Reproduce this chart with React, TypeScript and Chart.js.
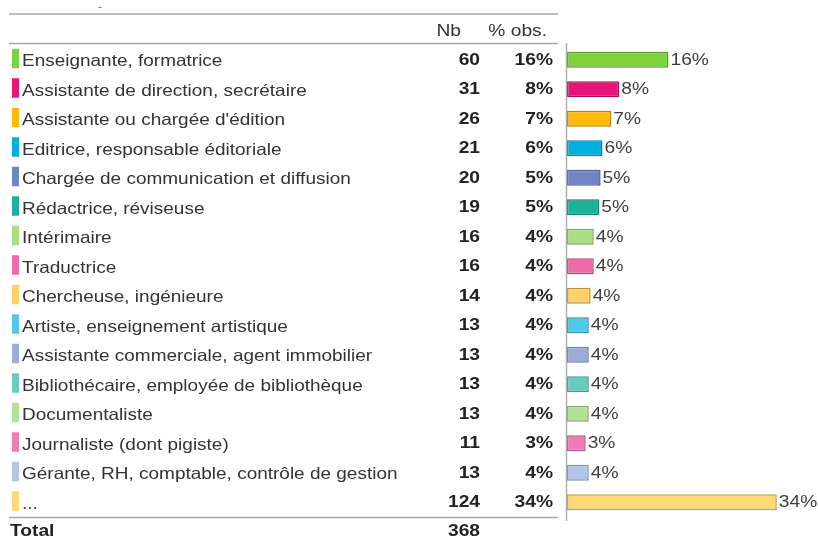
import React, { useEffect, useRef } from "react";
import { Chart, registerables } from "chart.js";
Chart.register(...registerables);

const categories = [
  "Enseignante, formatrice",
  "Assistante de direction, secrétaire",
  "Assistante ou chargée d'édition",
  "Editrice, responsable éditoriale",
  "Chargée de communication et diffusion",
  "Rédactrice, réviseuse",
  "Intérimaire",
  "Traductrice",
  "Chercheuse, ingénieure",
  "Artiste, enseignement artistique",
  "Assistante commerciale, agent immobilier",
  "Bibliothécaire, employée de bibliothèque",
  "Documentaliste",
  "Journaliste (dont pigiste)",
  "Gérante, RH, comptable, contrôle de gestion",
  "...",
];
const counts = [60, 31, 26, 21, 20, 19, 16, 16, 14, 13, 13, 13, 13, 11, 13, 124];
const percents = [16.3, 8.4, 7.1, 5.7, 5.4, 5.2, 4.3, 4.3, 3.8, 3.5, 3.5, 3.5, 3.5, 3.0, 3.5, 33.7];
const pctLabels = ["16%", "8%", "7%", "6%", "5%", "5%", "4%", "4%", "4%", "4%", "4%", "4%", "4%", "3%", "4%", "34%"];
const totalLabel = "Total";
const totalCount = "368";
const headerNb = "Nb";
const headerPct = "% obs.";

const fillColors = [
  "#7ed33c", "#ea1478", "#ffba0c", "#00b0e0", "#6f85c6", "#1ab39a",
  "#a9df82", "#f06aaa", "#ffd068", "#52c8e8", "#9cacd8", "#66ccbc",
  "#b2e294", "#f07cb6", "#b4c6e6", "#ffd878",
];
const borderColors = [
  "#5a9a2a", "#a51058", "#b48400", "#0a80a6", "#4d5f96", "#10806c",
  "#78a85a", "#b04a7c", "#b89040", "#3090aa", "#6e7ea8", "#449888",
  "#80aa66", "#b05888", "#8090b0", "#b8a050",
];

function txt(ctx: CanvasRenderingContext2D, s: string, x: number, y: number, align: CanvasTextAlign, font: string, color: string, sx = 1.2) {
  ctx.save();
  ctx.font = font;
  ctx.fillStyle = color;
  ctx.textBaseline = "middle";
  ctx.textAlign = align;
  ctx.translate(x, y);
  ctx.scale(sx, 1);
  ctx.fillText(s, 0, 0);
  ctx.restore();
}

const tablePlugin = {
  id: "tablePlugin",
  beforeDraw(chart: any) {
    const ctx = chart.ctx;
    ctx.save();
    ctx.fillStyle = "#ffffff";
    ctx.fillRect(0, 0, chart.width, chart.height);
    ctx.restore();
  },
  afterDatasetsDraw(chart: any) {
    const ctx: CanvasRenderingContext2D = chart.ctx;
    const ys = chart.scales.y;
    const xs = chart.scales.x;
    const area = chart.chartArea;
    const reg = "16px 'Liberation Sans', Arial, sans-serif";
    const lab = "16.5px 'Liberation Sans', Arial, sans-serif";
    const bold = "bold 16px 'Liberation Sans', Arial, sans-serif";
    const x0 = xs.getPixelForValue(0);

    ctx.save();
    ctx.strokeStyle = "#a8a8a8";
    ctx.lineWidth = 1.5;
    const hl = (y: number) => { ctx.beginPath(); ctx.moveTo(9, y); ctx.lineTo(558, y); ctx.stroke(); };
    hl(14);
    hl(area.top - 1.5);
    hl(area.bottom + 0.5);
    ctx.strokeStyle = "#b0b0b0";
    ctx.beginPath(); ctx.moveTo(x0 - 0.5, area.top - 2); ctx.lineTo(x0 - 0.5, area.bottom + 4); ctx.stroke();
    ctx.restore();

    txt(ctx, "-", 100, 7, "center", "10px 'Liberation Sans', Arial, sans-serif", "#666");
    txt(ctx, headerNb, 461, 31.5, "right", reg, "#333");
    txt(ctx, headerPct, 547, 31.5, "right", reg, "#333");

    const meta = chart.getDatasetMeta(0);
    categories.forEach((c, i) => {
      const y = ys.getPixelForValue(i);
      ctx.save();
      ctx.fillStyle = fillColors[i];
      ctx.fillRect(12, y - 11, 7, 19.5);
      ctx.restore();
      txt(ctx, c, 22, y + 2, "left", lab, "#333", 1.15);
      txt(ctx, String(counts[i]), 480, y + 0.5, "right", bold, "#222");
      txt(ctx, pctLabels[i], 553, y + 0.5, "right", bold, "#222");
      const bar = meta.data[i];
      txt(ctx, pctLabels[i], bar.x + 2, y + 0.5, "left", reg, "#404040");
    });
    txt(ctx, totalLabel, 10, 532, "left", bold, "#222");
    txt(ctx, totalCount, 480, 532, "right", bold, "#222");
  },
};

export default function App() {
  const ref = useRef<HTMLCanvasElement | null>(null);
  useEffect(() => {
    document.body.style.margin = "0";
    document.body.style.overflow = "hidden";
    const chart = new Chart(ref.current as HTMLCanvasElement, {
      type: "bar",
      data: {
        labels: categories,
        datasets: [
          {
            data: percents,
            backgroundColor: fillColors,
            borderColor: borderColors,
            borderWidth: 1.5,
            borderSkipped: false,
            barPercentage: 0.54,
            categoryPercentage: 1,
          },
        ],
      },
      options: {
        indexAxis: "y",
        animation: false,
        responsive: false,
        devicePixelRatio: 1,
        layout: { padding: { left: 567, right: 2, top: 45, bottom: 23 } },
        plugins: { legend: { display: false }, tooltip: { enabled: false }, title: { display: false } },
        scales: {
          x: { display: false, min: 0, max: 40 },
          y: { display: false },
        },
      },
      plugins: [tablePlugin],
    } as any);
    return () => chart.destroy();
  }, []);
  return (
    <div style={{ position: "absolute", left: 0, top: 0, width: 818, height: 540 }}>
      <canvas ref={ref} width={818} height={540} style={{ width: 818, height: 540, display: "block" }} />
    </div>
  );
}
